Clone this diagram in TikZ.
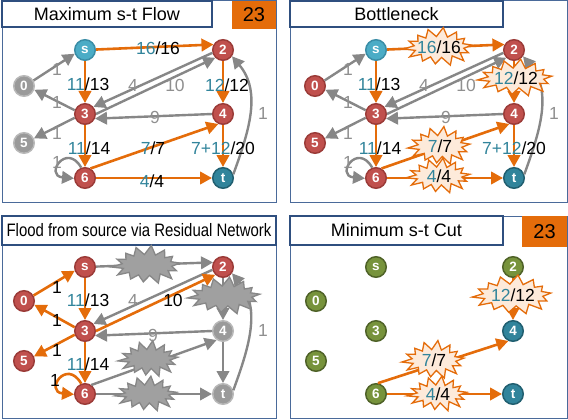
\documentclass[tikz,border=0pt]{standalone}
\usepackage{fontspec}
\setmainfont{Liberation Sans}
\usetikzlibrary{arrows.meta}
\definecolor{cOrange}{HTML}{E46C0A}
\definecolor{cPeach}{HTML}{FDEADA}
\definecolor{cGray}{HTML}{878787}
\definecolor{cGrayT}{HTML}{8F8F8F}
\definecolor{cGrayN}{HTML}{9A9A9A}
\definecolor{cGrayNB}{HTML}{B8B8B8}
\definecolor{cGrayF}{HTML}{A0A0A0}
\definecolor{cRed}{HTML}{C0504D}
\definecolor{cRedB}{HTML}{9B3B38}
\definecolor{cSky}{HTML}{4BACC6}
\definecolor{cSkyB}{HTML}{3A8DA6}
\definecolor{cTeal}{HTML}{31849B}
\definecolor{cTealB}{HTML}{215F70}
\definecolor{cGreen}{HTML}{77933C}
\definecolor{cGreenB}{HTML}{4F6228}
\definecolor{cFrame}{HTML}{4A6A9A}
\definecolor{cTitle}{HTML}{2F4F7F}
\newcommand{\flw}[1]{\textcolor{cTeal}{#1}}
% explosion shape: name, cx, cy, rx, ry, style, text
\newcommand{\xburst}[7]{%
  \draw[#6] plot[samples at={0,...,27},variable=\k]
   ({#2+ifthenelse(mod(\k,2)==0,#4*(1+0.09*sin(\k*137)),#4-8)*cos(\k*360/28+6)},
    {#3+ifthenelse(mod(\k,2)==0,#5*(1+0.09*sin(\k*137)),#5-7.5)*sin(\k*360/28+6)}) -- cycle;
  \node[elab] (#1) at (#2,#3) {#7};}
\tikzset{
  x=1pt,y=1pt,
  vtx/.style={circle,minimum size=20.5pt,inner sep=0pt,line width=1.5pt,text=white,font=\fontsize{13.5}{13.5}\selectfont\bfseries},
  vred/.style={vtx,fill=cRed,draw=cRedB},
  vgray/.style={vtx,fill=cGrayN,draw=cGrayNB},
  vsky/.style={vtx,fill=cSky,draw=cSkyB},
  vteal/.style={vtx,fill=cTeal,draw=cTealB},
  vgreen/.style={vtx,fill=cGreen,draw=cGreenB},
  framebox/.style={draw=cFrame,line width=1pt},
  titlebox/.style={draw=cTitle,line width=1.8pt,fill=white,inner sep=0pt,font=\fontsize{18}{18}\selectfont},
  badge/.style={fill=cOrange,inner sep=0pt,font=\fontsize{20}{20}\selectfont},
  oedge/.style={draw=cOrange,line width=2.6pt,-{Triangle[length=12pt,width=12.5pt]}},
  gedge/.style={draw=cGray,line width=2.4pt,-{Triangle[length=12pt,width=12.5pt]}},
  elab/.style={inner sep=0pt,font=\fontsize{17.5}{17.5}\selectfont},
  glab/.style={elab,text=cGrayT},
  oburst/.style={fill=cPeach,draw=cOrange,line width=1.3pt,line join=miter},
  gburst/.style={fill=cGrayF,draw=cGray,line width=1.3pt,line join=miter},
  selfloop/.style={out=120,in=175,distance=30pt},
}
\begin{document}
\begin{tikzpicture}
\useasboundingbox (0,0) rectangle (568,-420);
% ---------- frames ----------
\draw[framebox] (2,-1) rectangle (276,-202);
\draw[framebox] (290,-1) rectangle (567,-202);
\draw[framebox] (2,-216) rectangle (276,-418);
\draw[framebox] (290,-216) rectangle (567,-418);
\node[titlebox,minimum width=210pt,minimum height=26pt] (t1) at (107,-14) {Maximum s-t Flow};
\node[badge,minimum width=44pt,minimum height=28pt] (b1) at (254,-15) {23};
\node[titlebox,minimum width=213pt,minimum height=26pt] (t2) at (396.5,-14) {Bottleneck};
\node[titlebox,minimum width=274pt,minimum height=29pt] (t3) at (139,-230.5) {\scalebox{0.83}[1]{Flood from source via Residual Network}};
\node[titlebox,minimum width=213pt,minimum height=29pt] (t4) at (396.5,-230.5) {Minimum s-t Cut};
\node[badge,minimum width=45pt,minimum height=31pt] (b4) at (544.5,-231.5) {23};

% ================= Panel 1 =================
\node[vgray] (a-0) at (24,-86) {0};
\node[vsky]  (a-s) at (85,-50) {s};
\node[vred]  (a-2) at (223,-50) {2};
\node[vred]  (a-3) at (85,-114) {3};
\node[vred]  (a-4) at (223,-114) {4};
\node[vgray] (a-5) at (24,-143) {5};
\node[vred]  (a-6) at (85,-178) {6};
\node[vteal] (a-t) at (223,-178) {t};
\draw[gedge] (a-0.30) -- (a-s.200);
\draw[gedge] (a-3.160) -- (a-0.-20);
\draw[gedge] (a-3.200) -- (a-5.25);
\draw[gedge] (a-2.195) -- (a-3.40);
\draw[gedge] (a-3.0) -- (a-2.225);
\draw[gedge] (a-4.180) -- (a-3.-25);
\draw[gedge] (a-6.110) to[selfloop] (a-6.182);
\draw[gedge] (a-t.20) to[out=70,in=-50] (a-2.-35);
\draw[oedge] (a-s) -- (a-2.150);
\draw[oedge] (a-s) -- (a-3);
\draw[oedge] (a-3) -- (a-6);
\draw[oedge] (a-2) -- (a-4);
\draw[oedge] (a-4) -- (a-t);
\draw[oedge] (a-6.60) -- (a-4.245);
\draw[oedge] (a-6) -- (a-t);
\node[elab] (a-l1) at (158,-48) {\flw{16}/16};
\node[elab] (a-l2) at (88,-84) {\flw{11}/13};
\node[glab] (a-l3) at (133,-85) {4};
\node[glab] (a-l4) at (175,-85) {10};
\node[elab] (a-l5) at (227,-85) {\flw{12}/12};
\node[glab] (a-l6) at (155,-117) {9};
\node[glab] (a-l7) at (263,-113) {1};
\node[elab] (a-l8) at (89,-148) {\flw{11}/14};
\node[elab] (a-l9) at (153,-148) {\flw{7}/7};
\node[elab] (a-l10) at (223,-148) {\flw{7+12}/20};
\node[elab] (a-l11) at (152,-181) {\flw{4}/4};
\node[glab] (a-l12) at (57,-69) {1};
\node[glab] (a-l13) at (57,-102) {1};
\node[glab] (a-l14) at (57,-133) {1};
\node[glab] (a-l15) at (57,-162) {1};

% ================= Panel 2 =================
\node[vred]  (b-0) at (315,-86) {0};
\node[vsky]  (b-s) at (376,-50) {s};
\node[vred]  (b-2) at (514,-50) {2};
\node[vred]  (b-3) at (376,-114) {3};
\node[vred]  (b-4) at (514,-114) {4};
\node[vred]  (b-5) at (315,-143) {5};
\node[vred]  (b-6) at (376,-178) {6};
\node[vteal] (b-t) at (514,-178) {t};
\draw[gedge] (b-0.30) -- (b-s.200);
\draw[gedge] (b-3.160) -- (b-0.-20);
\draw[gedge] (b-3.200) -- (b-5.25);
\draw[gedge] (b-2.195) -- (b-3.40);
\draw[gedge] (b-3.0) -- (b-2.225);
\draw[gedge] (b-4.180) -- (b-3.-25);
\draw[gedge] (b-6.110) to[selfloop] (b-6.182);
\draw[gedge] (b-t.20) to[out=70,in=-50] (b-2.-35);
\draw[oedge] (b-s) -- (b-2.150);
\draw[oedge] (b-s) -- (b-3);
\draw[oedge] (b-3) -- (b-6);
\draw[oedge] (b-2) -- (b-4);
\draw[oedge] (b-4) -- (b-t);
\draw[oedge] (b-6.60) -- (b-4.245);
\draw[oedge] (b-6) -- (b-t);
\xburst{b-l1}{439}{-47}{33}{18}{oburst}{\flw{16}/16}
\xburst{b-l5}{516}{-78}{36}{17.5}{oburst}{\flw{12}/12}
\xburst{b-l9}{440}{-146}{30}{18}{oburst}{\flw{7}/7}
\xburst{b-l11}{439}{-176}{31}{16.5}{oburst}{\flw{4}/4}
\node[elab] (b-l2) at (379,-84) {\flw{11}/13};
\node[glab] (b-l3) at (424,-85) {4};
\node[glab] (b-l4) at (466,-85) {10};
\node[glab] (b-l6) at (446,-117) {9};
\node[glab] (b-l7) at (554,-113) {1};
\node[elab] (b-l8) at (380,-148) {\flw{11}/14};
\node[elab] (b-l10) at (514,-148) {\flw{7+12}/20};
\node[glab] (b-l12) at (348,-69) {1};
\node[glab] (b-l13) at (348,-102) {1};
\node[glab] (b-l14) at (348,-133) {1};
\node[glab] (b-l15) at (348,-162) {1};

% ================= Panel 3 =================
\node[vred]  (c-0) at (24,-301) {0};
\node[vred]  (c-s) at (85,-267) {s};
\node[vred]  (c-2) at (223,-267) {2};
\node[vred]  (c-3) at (85,-331) {3};
\node[vgray] (c-4) at (223,-331) {4};
\node[vred]  (c-5) at (24,-361) {5};
\node[vred]  (c-6) at (85,-394) {6};
\node[vgray] (c-t) at (223,-394) {t};
\draw[gedge] (c-s) -- (c-2.155);
\draw[gedge] (c-2.195) -- (c-3.40);
\draw[gedge] (c-4.180) -- (c-3.-25);
\draw[gedge] (c-2) -- (c-4);
\draw[gedge] (c-6.55) -- (c-4.235);
\draw[gedge] (c-6) -- (c-t);
\draw[gedge] (c-4) -- (c-t);
\draw[gedge] (c-t.20) to[out=70,in=-50] (c-2.-35);
\draw[oedge] (c-0.30) -- (c-s.200);
\draw[oedge] (c-3.160) -- (c-0.-20);
\draw[oedge] (c-3.200) -- (c-5.25);
\draw[oedge] (c-s) -- (c-3);
\draw[oedge] (c-3) -- (c-6);
\draw[oedge] (c-3.0) -- (c-2.225);
\draw[oedge] (c-6.110) to[selfloop] (c-6.182);
\xburst{c-g1}{147}{-265}{33}{18}{gburst}{}
\xburst{c-g2}{225}{-296}{35}{17.5}{gburst}{}
\xburst{c-g3}{149}{-359}{29}{17}{gburst}{}
\xburst{c-g4}{147}{-394}{30}{16.5}{gburst}{}
\node[elab] (c-l1) at (57,-287) {1};
\node[elab] (c-l2) at (57,-320) {1};
\node[elab] (c-l3) at (57,-350) {1};
\node[elab] (c-l4) at (55,-380) {1};
\node[elab] (c-l5) at (88,-300) {\flw{11}/13};
\node[glab] (c-l6) at (133,-300) {4};
\node[elab] (c-l7) at (173,-300) {10};
\node[glab] (c-l8) at (153,-335) {9};
\node[elab] (c-l9) at (88,-364) {\flw{11}/14};
\node[glab] (c-l10) at (263,-330) {1};

% ================= Panel 4 =================
\node[vgreen] (d-0) at (316,-301) {0};
\node[vgreen] (d-s) at (376,-267) {s};
\node[vgreen] (d-2) at (513,-267) {2};
\node[vgreen] (d-3) at (376,-331) {3};
\node[vteal]  (d-4) at (513,-331) {4};
\node[vgreen] (d-5) at (316,-361) {5};
\node[vgreen] (d-6) at (376,-394) {6};
\node[vteal]  (d-t) at (513,-394) {t};
\draw[oedge] (d-2) -- (d-4);
\draw[oedge] (d-6.80) -- (d-4.245);
\draw[oedge] (d-6) -- (d-t);
\xburst{d-l1}{513}{-295}{38}{18.5}{oburst}{\flw{12}/12}
\xburst{d-l2}{434}{-360}{30}{18}{oburst}{\flw{7}/7}
\xburst{d-l3}{438}{-394}{29}{16.5}{oburst}{\flw{4}/4}
\end{tikzpicture}
\end{document}
